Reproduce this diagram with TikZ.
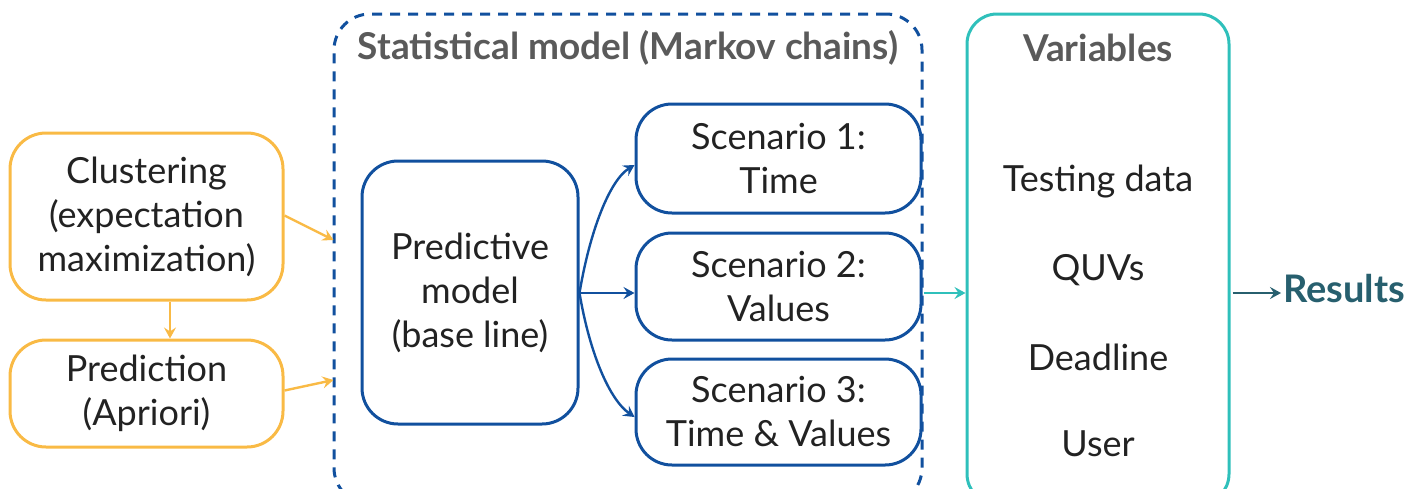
\documentclass[tikz,border=0pt]{standalone}
\usepackage{fontspec}
\setmainfont{Lato}
\usetikzlibrary{arrows.meta}
\definecolor{orng}{HTML}{F9BA45}
\definecolor{dblue}{HTML}{11509E}
\definecolor{teal1}{HTML}{2FC0BB}
\definecolor{gtxt}{HTML}{5A5A5A}
\definecolor{rtxt}{HTML}{275F6E}
\definecolor{btxt}{HTML}{222222}
\begin{document}
\begin{tikzpicture}[x=1pt,y=-1pt,
  box/.style={draw, line width=3pt, rounded corners=36pt, text=btxt, align=center,
    font=\fontsize{36}{44}\selectfont, inner sep=0pt},
  obox/.style={box, draw=orng},
  bbox/.style={box, draw=dblue},
  oarr/.style={draw=orng, line width=2.4pt, -{Stealth[length=11pt,width=12pt,inset=4pt]}},
  barr/.style={draw=dblue, line width=2.4pt, -{Stealth[length=11pt,width=12pt,inset=4pt]}},
  tarr/.style={draw=teal1, line width=2.4pt, -{Stealth[length=11pt,width=12pt,inset=4pt]}},
  rarr/.style={draw=rtxt, line width=2.4pt, -{Stealth[length=11pt,width=12pt,inset=4pt]}},
  ttl/.style={text=gtxt, font=\fontsize{37}{40}\selectfont\bfseries},
  vtxt/.style={text=btxt, font=\fontsize{36}{40}\selectfont}
]
\useasboundingbox (0,0) rectangle (1420,488);
% containers
\node[draw=dblue, dashed, dash pattern=on 10pt off 8pt, line width=3pt, rounded corners=36pt,
  minimum width=588pt, minimum height=490pt, inner sep=0pt] (stat) at (628,259) {};
\node[draw=teal1, line width=3pt, rounded corners=30pt,
  minimum width=262pt, minimum height=490pt, inner sep=0pt] (vars) at (1098,259) {};
\node[ttl] (stitle) at (628,48) {Statistical model (Markov chains)};
\node[ttl] (vtitle) at (1098,48) {Variables};
% left boxes
\node[obox, minimum width=273pt, minimum height=167pt] (clus) at (146.5,216.5)
  {Clustering\\(expectation\\maximization)};
\node[obox, minimum width=273pt, minimum height=107pt] (pred) at (146.5,393.5)
  {Prediction\\(Apriori)};
% predictive model
\node[bbox, minimum width=216pt, minimum height=263pt] (pm) at (470,292.5)
  {Predictive\\model\\(base line)};
\node[bbox, minimum width=285pt, minimum height=109pt] (s1) at (778.5,158.5)
  {Scenario 1:\\Time};
\node[bbox, minimum width=285pt, minimum height=107pt] (s2) at (778.5,286.5)
  {Scenario 2:\\Values};
\node[bbox, minimum width=285pt, minimum height=106pt] (s3) at (778.5,412)
  {Scenario 3:\\Time \& Values};
% variables text
\node[vtxt] (v1) at (1098,182) {Testing data};
\node[vtxt] (v2) at (1098,270) {QUVs};
\node[vtxt] (v3) at (1098,357) {Deadline};
\node[vtxt] (v4) at (1098,444) {User};
\node[text=rtxt, font=\fontsize{38}{40}\selectfont\bfseries, anchor=west, inner sep=0pt] (res) at (1283,289) {Results};
% arrows
\draw[oarr] ([yshift=1pt]clus.east) -- ([xshift=1pt]stat.west |- 0,240);
\draw[oarr] ([yshift=3pt]pred.east) -- ([xshift=1pt]stat.west |- 0,380);
\draw[oarr] (clus.south -| 170,0) -- (pred.north -| 170,0);
\coordinate (pmo) at (pm.east |- 0,293);
\draw[barr] (pmo) -- (s2.west |- 0,293);
\draw[barr] (pmo) .. controls (590,230) and (610,180) .. (s1.west |- 0,165);
\draw[barr] (pmo) .. controls (590,355) and (610,400) .. (s3.west |- 0,417);
\draw[tarr] (stat.east |- 0,293) -- (vars.west |- 0,293);
\draw[rarr] ([xshift=2pt]vars.east |- 0,293) -- ([xshift=-2pt]res.west |- 0,293);
\end{tikzpicture}
\end{document}
